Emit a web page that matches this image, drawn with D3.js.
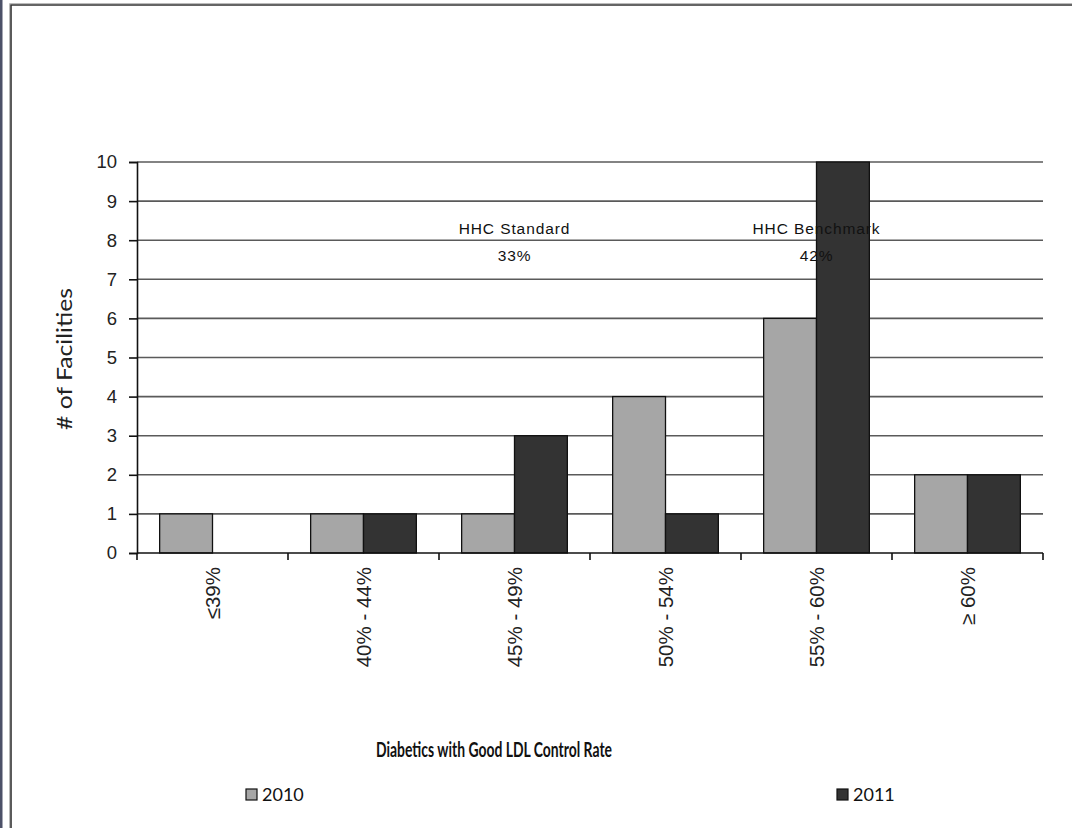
<!DOCTYPE html>
<html>
<head>
<meta charset="utf-8">
<script src="https://cdn.jsdelivr.net/npm/d3@7"></script>
<style>
  html, body { margin: 0; padding: 0; background: #fff; }
  svg { display: block; }
</style>
</head>
<body>
<svg id="chart" width="1072" height="828"></svg>
<script>
const categories = ["\u226439%", "40% - 44%", "45% - 49%", "50% - 54%", "55% - 60%", "\u2265 60%"];
const seriesNames = ["2010", "2011"];
const values2010 = [1, 1, 1, 4, 6, 2];
const values2011 = [0, 1, 3, 1, 10, 2];
const yTicks = [0, 1, 2, 3, 4, 5, 6, 7, 8, 9, 10];
const annotationLabels = ["HHC Standard", "HHC Benchmark"];
const annotationValues = ["33%", "42%"];
const annotationCategories = ["45% - 49%", "55% - 60%"];
const colors = ["#a6a6a6", "#333333"];

const svg = d3.select("#chart");

// outer frame
svg.append("rect").attr("x", 0).attr("y", 0).attr("width", 2.5).attr("height", 828).attr("fill", "#4c5168");
svg.append("path").attr("d", "M9.5,828V3.5H1072").attr("fill", "none").attr("stroke", "#bbbbbb").attr("stroke-width", 1);
svg.append("path").attr("d", "M11,828V5H1072").attr("fill", "none").attr("stroke", "#333333").attr("stroke-width", 1.6);

const pLeft = 137, pRight = 1043, pTop = 162, pBottom = 553;

const x = d3.scaleBand().domain(categories).range([pLeft, pRight]).paddingInner(0.3).paddingOuter(0.15);
const xEdge = d3.scaleBand().domain(categories).range([pLeft, pRight]).padding(0);
const xs = d3.scaleBand().domain(seriesNames).range([0, x.bandwidth()]);
const y = d3.scaleLinear().domain([0, 10]).range([pBottom, pTop]);

// gridlines
svg.append("g").selectAll("line").data(yTicks.filter(d => d > 0)).join("line")
  .attr("x1", pLeft).attr("x2", pRight)
  .attr("y1", d => y(d)).attr("y2", d => y(d))
  .attr("stroke", "#5a5a5a").attr("stroke-width", 1.6);

// bars
const series = [values2010, values2011];
series.forEach((vals, si) => {
  svg.append("g").selectAll("rect").data(categories).join("rect")
    .attr("x", (c) => x(c) + xs(seriesNames[si]))
    .attr("width", xs.bandwidth())
    .attr("y", (c, i) => y(vals[i]))
    .attr("height", (c, i) => y(0) - y(vals[i]))
    .attr("fill", colors[si])
    .attr("stroke", (c, i) => vals[i] > 0 ? "#111" : "none")
    .attr("stroke-width", 1.3);
});

// y axis
const yAxis = svg.append("g").attr("transform", `translate(${pLeft},0)`)
  .call(d3.axisLeft(y).tickValues(yTicks).tickSize(8).tickPadding(12).tickFormat(d3.format("d")));
yAxis.select(".domain").attr("stroke", "#111").attr("stroke-width", 1.6);
yAxis.selectAll(".tick line").attr("stroke", "#111").attr("stroke-width", 1.6);
yAxis.selectAll("text").attr("font-family", "Liberation Sans, Arial, sans-serif").attr("font-size", 18.5).attr("fill", "#222");

// x axis line and ticks at band edges
svg.append("line").attr("x1", pLeft).attr("x2", pRight).attr("y1", pBottom).attr("y2", pBottom)
  .attr("stroke", "#111").attr("stroke-width", 1.6);
const edges = categories.map(c => xEdge(c)).concat([pRight]);
svg.append("g").selectAll("line").data(edges).join("line")
  .attr("x1", d => d).attr("x2", d => d).attr("y1", pBottom).attr("y2", pBottom + 7)
  .attr("stroke", "#111").attr("stroke-width", 1.6);

// clip for the last (cut-off) category label
svg.append("defs").append("clipPath").attr("id", "labelClip")
  .append("rect").attr("x", 0).attr("y", 0).attr("width", 1072).attr("height", 622);

// x labels (rotated)
svg.append("g").selectAll("text").data(categories).join("text")
  .attr("transform", c => `translate(${xEdge(c) + xEdge.bandwidth() / 2 + 7},567) rotate(-90)`)
  .attr("text-anchor", "end")
  .attr("font-family", "Liberation Sans, Arial, sans-serif")
  .attr("font-size", 20.5)
  .attr("fill", "#222")
  .attr("clip-path", (c, i) => i === categories.length - 1 ? null : null)
  .text(c => c);

// y title
svg.append("text")
  .attr("transform", "translate(72,359) rotate(-90)")
  .attr("text-anchor", "middle")
  .attr("font-family", "Lato, Liberation Sans, sans-serif")
  .attr("font-size", 22)
  .attr("fill", "#222")
  .attr("textLength", 142).attr("lengthAdjust", "spacingAndGlyphs")
  .text("# of Facilities");

// annotations
annotationLabels.forEach((lab, i) => {
  const cx = xEdge(annotationCategories[i]) + xEdge.bandwidth() / 2;
  svg.append("text").attr("x", cx).attr("y", 234).attr("text-anchor", "middle")
    .attr("font-family", "Liberation Sans, Arial, sans-serif").attr("font-size", 15.5)
    .attr("letter-spacing", 0.9).attr("fill", "#111").text(lab);
  svg.append("text").attr("x", cx).attr("y", 261).attr("text-anchor", "middle")
    .attr("font-family", "Liberation Sans, Arial, sans-serif").attr("font-size", 15.5)
    .attr("letter-spacing", 0.9).attr("fill", "#111").text(annotationValues[i]);
});

// title
svg.append("text")
  .attr("x", 494).attr("y", 757).attr("text-anchor", "middle")
  .attr("font-family", "Lato, Liberation Sans, sans-serif").attr("font-weight", "bold")
  .attr("font-size", 20).attr("fill", "#111")
  .attr("textLength", 236).attr("lengthAdjust", "spacingAndGlyphs")
  .text("Diabetics with Good LDL Control Rate");

// legend
const legendX = [246, 837];
seriesNames.forEach((s, i) => {
  svg.append("rect").attr("x", legendX[i]).attr("y", 789).attr("width", 11).attr("height", 11)
    .attr("fill", colors[i]).attr("stroke", "#111").attr("stroke-width", 1.2);
  svg.append("text").attr("x", legendX[i] + 16).attr("y", 801)
    .attr("font-family", "Lato, Liberation Sans, sans-serif").attr("font-size", 18)
    .attr("fill", "#111").text(s);
});
</script>
</body>
</html>
